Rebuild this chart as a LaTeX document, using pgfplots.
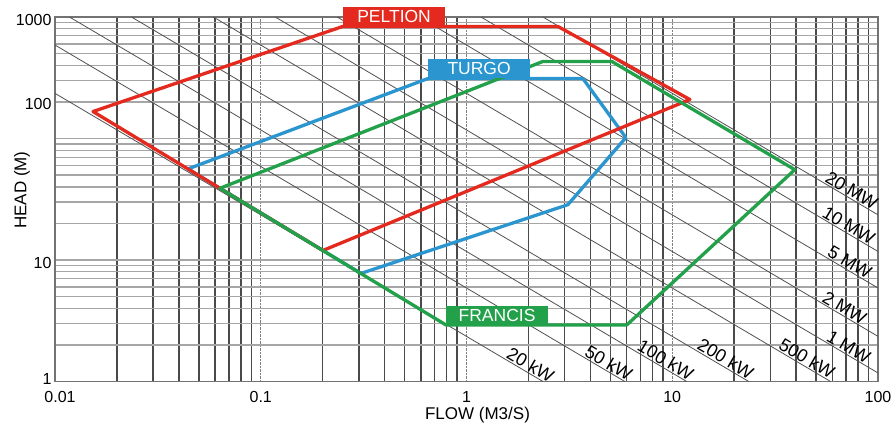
\documentclass[border=0pt]{standalone}
\usepackage{fontspec}
\setmainfont{Liberation Sans}
\usepackage{pgfplots}
\pgfplotsset{compat=1.18}
\definecolor{pelton}{HTML}{E42A1F}
\definecolor{turgo}{HTML}{2A95CF}
\definecolor{francis}{HTML}{22A04A}
\definecolor{vgrid}{HTML}{4A4A4A}
\definecolor{hgrid}{HTML}{A6A6A6}
\definecolor{pline}{HTML}{505050}
\begin{document}
\begin{tikzpicture}[x=1pt,y=1pt]
\begin{axis}[
  at={(0,0)}, anchor=south west,
  xmode=log, ymode=log,
  scale only axis, width=823pt, height=364.5pt,
  xmin=0.01, xmax=100, ymin=1, ymax=1000,
  xtick={0.01,0.1,1,10,100},
  xticklabels={\hspace{10pt}0.01,0.1,1\hspace{8pt},10,100\hspace{12pt}},
  ytick={10,200,1000},
  yticklabels={10,100,1000},
  extra y ticks={1}, extra y tick labels={1},
  extra y tick style={yticklabel style={yshift=5pt}},
  minor xtick={0.02,0.03,0.04,0.05,0.06,0.07,0.08,0.09,0.2,0.3,0.4,0.5,0.6,0.7,0.8,0.9,2,3,4,5,6,7,8,9,20,30,40,50,60,70,80,90},
  minor ytick={2,3,4,5,6,7,8,9,10,20,30,40,50,60,70,80,90,100,200,300,400,500,600,700,800,900},
  major tick length=0pt, minor tick length=0pt,
  xmajorgrids, xminorgrids, yminorgrids,
  major x grid style={densely dotted, gray, line width=0.8pt},
  minor x grid style={vgrid, line width=1.5pt},
  minor y grid style={hgrid, line width=1.3pt},
  axis line style={draw=gray!90!black, line width=1.2pt},
  /pgf/number format/assume math mode=true,
  tick label style={font=\fontsize{16}{19}\selectfont, black},
  xticklabel style={yshift=-6pt},
  yticklabel style={yshift=-2.5pt},
  label style={font=\fontsize{17}{20}\selectfont},
  xlabel={FLOW (M3/S)}, ylabel={HEAD (M)},
  xlabel style={at={(axis description cs:0.5134,-0.0919)}, anchor=center},
  ylabel style={at={(axis description cs:-0.0401,0.525)}, anchor=center},
  clip mode=individual,
]
% constant power lines (Q*H = P/8.5)
\addplot[pline, line width=0.8pt] coordinates {(0.01,235.3) (2.353,1)};
\addplot[pline, line width=0.8pt] coordinates {(0.01,588.2) (5.882,1)};
\addplot[pline, line width=0.8pt] coordinates {(0.01176,1000) (11.76,1)};
\addplot[pline, line width=0.8pt] coordinates {(0.02353,1000) (23.53,1)};
\addplot[pline, line width=0.8pt] coordinates {(0.05882,1000) (58.82,1)};
\addplot[pline, line width=0.8pt] coordinates {(0.1176,1000) (100,1.176)};
\addplot[pline, line width=0.8pt] coordinates {(0.2353,1000) (100,2.353)};
\addplot[pline, line width=0.8pt] coordinates {(0.5882,1000) (100,5.882)};
\addplot[pline, line width=0.8pt] coordinates {(1.176,1000) (100,11.76)};
\addplot[pline, line width=0.8pt] coordinates {(2.353,1000) (100,23.53)};
% TURGO
\addplot[turgo, line width=3.3pt, line join=round, line cap=round] coordinates {(0.04428,56.16) (0.6494,311.7) (3.678,311.7) (5.951,101.7) (3.110,28.52) (0.3068,7.754) (0.04428,56.16)};
% PELTION
\addplot[pelton, line width=3.3pt, line join=round, line cap=round] coordinates {(0.01530,166.7) (0.2507,836.5) (2.780,836.5) (12.18,209.3) (0.2005,11.98) (0.01530,166.7)};
% FRANCIS
\addplot[francis, line width=3.3pt, line join=round, line cap=round] coordinates {(0.06334,38.93) (2.350,430.5) (5.087,430.5) (39.42,55.4) (6.018,2.923) (0.7940,2.923) (0.06334,38.93)};
% boxes
\node[fill=pelton, text=white, anchor=south west, minimum width=102pt, minimum height=19pt, inner sep=0pt, font=\fontsize{17.5}{20}\selectfont] at (axis cs:0.2507,836.5) {PELTION};
\node[fill=turgo, text=white, anchor=south west, minimum width=102pt, minimum height=19pt, inner sep=0pt, font=\fontsize{17.5}{20}\selectfont] at (axis cs:0.6494,311.7) {TURGO};
\node[fill=francis, text=white, anchor=south west, minimum width=102pt, minimum height=19pt, inner sep=0pt, font=\fontsize{17.5}{20}\selectfont] at (axis cs:0.7940,2.923) {FRANCIS};
% power labels
\begin{scope}[every node/.style={rotate=-30.5, anchor=south, font=\fontsize{18}{20}\selectfont, inner sep=1.2pt}]
\node at (axis cs:1.96,1.200) {20 kW};
\node at (axis cs:4.70,1.2515) {50 kW};
\node at (axis cs:8.89,1.3228) {100 kW};
\node at (axis cs:17.4,1.352) {200 kW};
\node at (axis cs:43.2,1.3616) {500 kW};
\node at (axis cs:69.0,1.704) {1 MW};
\node at (axis cs:65.9,3.571) {2 MW};
\node at (axis cs:69.8,8.427) {5 MW};
\node at (axis cs:69.0,17.04) {10 MW};
\node at (axis cs:71.3,33.0) {20 MW};
\end{scope}
\end{axis}
\pgfresetboundingbox
\path[use as bounding box] (-55,-42.5) rectangle (841,381.5);
\end{tikzpicture}
\end{document}
